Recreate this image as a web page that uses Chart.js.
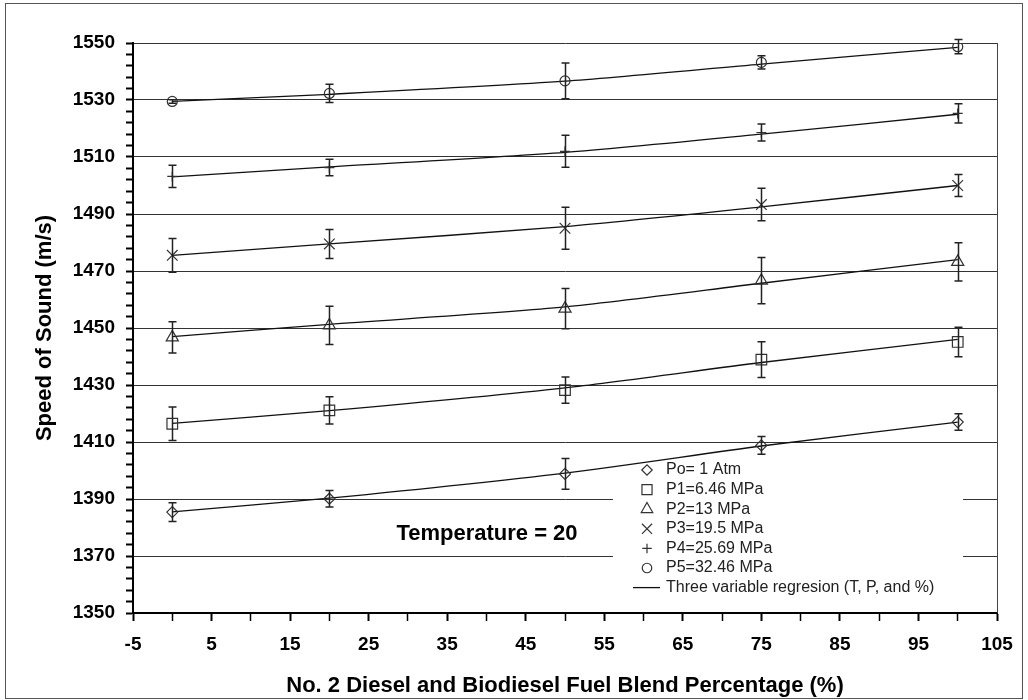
<!DOCTYPE html>
<html>
<head>
<meta charset="utf-8">
<script src="https://cdn.jsdelivr.net/npm/chart.js@4.4.1/dist/chart.umd.min.js"></script>
<style>
  html, body { margin: 0; padding: 0; background: #fff; }
  #wrap { width: 1028px; height: 700px; }
</style>
</head>
<body>
<div id="wrap"><canvas id="speedChart" width="1028" height="700"></canvas></div>
<script>
// blend percentage of biodiesel in No. 2 diesel
var blendPct = [0, 20, 50, 75, 100];

var seriesLabels = ['Po= 1 Atm', 'P1=6.46 MPa', 'P2=13 MPa', 'P3=19.5 MPa', 'P4=25.69 MPa', 'P5=32.46 MPa'];
var regressionLabel = 'Three variable regresion (T, P, and %)';
var noteText = 'Temperature = 20';

// measured speed of sound (m/s)
var po = [1385.4, 1390.1, 1398.8, 1408.8, 1417.0];
var p1 = [1416.4, 1421.1, 1428.2, 1438.9, 1445.1];
var p2 = [1446.7, 1450.9, 1456.8, 1466.6, 1473.2];
var p3 = [1475.5, 1479.5, 1485.0, 1493.3, 1500.0];
var p4 = [1503.2, 1506.3, 1512.0, 1518.6, 1525.3];
var p5 = [1529.5, 1532.3, 1536.7, 1543.2, 1548.7];

// +/- error bars (m/s)
var poErr = [3.3, 2.9, 5.4, 3.1, 2.9];
var p1Err = [5.9, 4.8, 4.6, 6.3, 5.2];
var p2Err = [5.5, 6.7, 7.1, 8.1, 6.7];
var p3Err = [5.9, 5.1, 7.4, 5.7, 3.9];
var p4Err = [3.9, 2.9, 5.6, 3.0, 3.4];
var p5Err = [0.6, 3.2, 6.3, 2.3, 2.5];

// regression line (T, P, %) read at the same blends
var poFit = [1385.5, 1390.3, 1399.1, 1408.6, 1417.0];
var p1Fit = [1416.5, 1421.0, 1429.0, 1437.9, 1446.0];
var p2Fit = [1447.0, 1451.3, 1457.4, 1465.7, 1474.0];
var p3Fit = [1475.5, 1479.5, 1485.6, 1492.5, 1500.0];
var p4Fit = [1503.0, 1506.5, 1511.6, 1518.0, 1525.0];
var p5Fit = [1529.5, 1532.0, 1536.6, 1542.6, 1548.5];

var yTicks = [1350, 1370, 1390, 1410, 1430, 1450, 1470, 1490, 1510, 1530, 1550];
var xTicks = [-5, 5, 15, 25, 35, 45, 55, 65, 75, 85, 95, 105];

var measured = [po, p1, p2, p3, p4, p5];
var errors = [poErr, p1Err, p2Err, p3Err, p4Err, p5Err];
var fits = [poFit, p1Fit, p2Fit, p3Fit, p4Fit, p5Fit];
var markerStyles = ['rectRot', 'rect', 'triangle', 'crossRot', 'cross', 'circle'];
var markerRadius = [5.5, 7.5, 7, 7.5, 5, 5];

function toPoints(xs, ys) {
  return xs.map(function(x, i) { return { x: x, y: ys[i] }; });
}

Chart.defaults.font.family = '"Liberation Sans", Arial, Helvetica, sans-serif';
Chart.defaults.color = '#000';

var datasets = [];
measured.forEach(function(vals, i) {
  datasets.push({
    type: 'scatter',
    label: seriesLabels[i],
    data: toPoints(blendPct, vals),
    errors: errors[i],
    pointStyle: markerStyles[i],
    pointRadius: markerRadius[i],
    pointBorderColor: '#333',
    pointBackgroundColor: 'rgba(0,0,0,0)',
    pointBorderWidth: 1.2,
    showLine: false,
    order: 1
  });
});
fits.forEach(function(vals, i) {
  datasets.push({
    type: 'line',
    label: i === 0 ? regressionLabel : '',
    data: toPoints(blendPct, vals),
    borderColor: '#111',
    borderWidth: 1.3,
    pointRadius: 0,
    tension: 0.25,
    fill: false,
    order: 2
  });
});

// vertical error bars with caps
var errorBars = {
  id: 'errorBars',
  afterDatasetsDraw: function(chart) {
    var ctx = chart.ctx, xs = chart.scales.x, ys = chart.scales.y;
    ctx.save();
    ctx.strokeStyle = '#222';
    ctx.lineWidth = 1.5;
    chart.data.datasets.forEach(function(ds) {
      if (!ds.errors) return;
      ds.data.forEach(function(pt, i) {
        var x = Math.round(xs.getPixelForValue(pt.x)) + 0.5;
        var top = ys.getPixelForValue(pt.y + ds.errors[i]);
        var bot = ys.getPixelForValue(pt.y - ds.errors[i]);
        ctx.beginPath();
        ctx.moveTo(x, top); ctx.lineTo(x, bot);
        ctx.moveTo(x - 4, top); ctx.lineTo(x + 4, top);
        ctx.moveTo(x - 4, bot); ctx.lineTo(x + 4, bot);
        ctx.stroke();
      });
    });
    ctx.restore();
  }
};

// legend box sitting inside the plot, white background over the grid
var boxLegend = {
  id: 'boxLegend',
  beforeDatasetsDraw: function(chart) {
    var ctx = chart.ctx;
    var left = 613, top = 459, right = 963, bottom = 600;
    ctx.save();
    ctx.fillStyle = '#fff';
    ctx.fillRect(left, top, right - left, bottom - top);
    ctx.font = '16px "Liberation Sans", Arial, sans-serif';
    ctx.textBaseline = 'middle';
    var rowY = 470, step = 19.6;
    for (var i = 0; i < seriesLabels.length; i++) {
      var y = rowY + i * step;
      ctx.strokeStyle = '#333';
      ctx.fillStyle = 'rgba(0,0,0,0)';
      ctx.lineWidth = 1.2;
      Chart.helpers.drawPoint(ctx, { pointStyle: markerStyles[i], radius: markerRadius[i] * 0.95, borderWidth: 1.2 }, 647, y);
      ctx.fillStyle = '#222';
      ctx.fillText(seriesLabels[i], 666, y);
    }
    var ly = rowY + 6 * step;
    ctx.strokeStyle = '#111';
    ctx.lineWidth = 1.3;
    ctx.beginPath();
    ctx.moveTo(633, ly); ctx.lineTo(660, ly);
    ctx.stroke();
    ctx.fillStyle = '#222';
    ctx.fillText(regressionLabel, 666, ly);
    ctx.restore();
  },
  afterDraw: function(chart) {
    var ctx = chart.ctx, area = chart.chartArea;
    ctx.save();
    // right edge of plot
    ctx.strokeStyle = '#444';
    ctx.lineWidth = 1;
    ctx.beginPath();
    ctx.moveTo(Math.round(area.right) + 0.5, area.top);
    ctx.lineTo(Math.round(area.right) + 0.5, area.bottom);
    ctx.stroke();
    // outer frame
    ctx.strokeStyle = '#555';
    ctx.strokeRect(5.5, 3.5, 1017, 695);
    // temperature note
    ctx.fillStyle = '#000';
    ctx.font = 'bold 22px "Liberation Sans", Arial, sans-serif';
    ctx.textAlign = 'center';
    ctx.textBaseline = 'middle';
    ctx.fillText(noteText, 487, 534);
    ctx.restore();
  }
};

var ctx = document.getElementById('speedChart');
var speedChart = new Chart(ctx, {
  data: { datasets: datasets },
  options: {
    responsive: false,
    animation: false,
    devicePixelRatio: 1,
    layout: { padding: { left: 0, top: 43, right: 31, bottom: 0 } },
    plugins: {
      legend: { display: false },
      tooltip: { enabled: false }
    },
    scales: {
      x: {
        type: 'linear',
        min: -5,
        max: 105,
        afterFit: function(scale) { scale.height = 87; },
        ticks: {
          stepSize: 5,
          autoSkip: false,
          maxRotation: 0,
          padding: 12,
          font: { size: 19, weight: 'bold' },
          callback: function(v) { return xTicks.indexOf(v) >= 0 ? String(v) : ''; }
        },
        grid: {
          drawOnChartArea: false,
          tickLength: 8,
          tickColor: '#000',
          tickWidth: function(c) { return xTicks.indexOf(c.tick.value) >= 0 ? 2 : 1.5; }
        },
        border: { display: true, color: '#000', width: 2 },
        title: {
          display: true,
          text: 'No. 2 Diesel and Biodiesel Fuel Blend Percentage (%)',
          font: { size: 22, weight: 'bold' },
          padding: { top: 0, bottom: 1 }
        }
      },
      y: {
        type: 'linear',
        min: 1350,
        max: 1550,
        afterFit: function(scale) { scale.width = 133; },
        ticks: {
          stepSize: 4,
          autoSkip: false,
          padding: 11,
          font: { size: 19, weight: 'bold' },
          callback: function(v) { return yTicks.indexOf(v) >= 0 ? String(v) : ''; }
        },
        grid: {
          tickLength: 7,
          color: function(c) { return yTicks.indexOf(c.tick.value) >= 0 ? '#333' : 'rgba(0,0,0,0)'; },
          tickColor: '#000',
          tickWidth: 2,
          lineWidth: 1
        },
        border: { display: true, color: '#000', width: 2 },
        title: {
          display: true,
          text: 'Speed of Sound (m/s)',
          font: { size: 22, weight: 'bold' },
          padding: { top: 32, bottom: 0 }
        }
      }
    }
  },
  plugins: [errorBars, boxLegend]
});
</script>
</body>
</html>
